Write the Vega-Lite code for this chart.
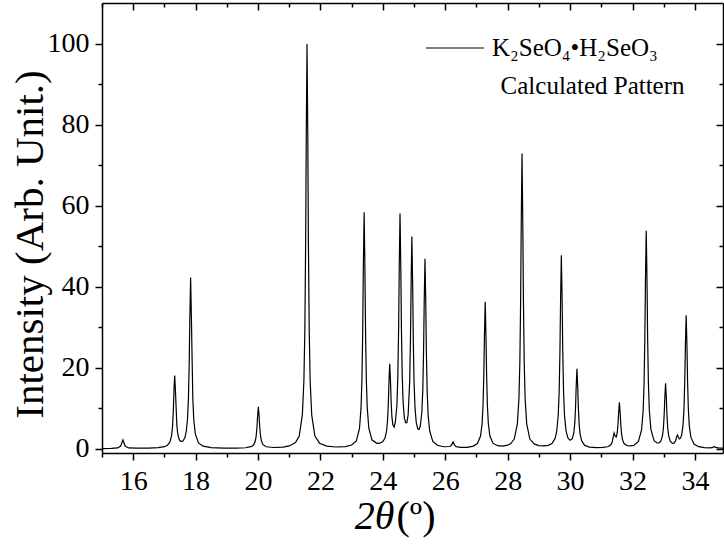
{
  "$schema": "https://vega.github.io/schema/vega-lite/v6.json",
  "autosize": {"type": "none"},
  "padding": {"left": 102, "top": 3, "right": 1, "bottom": 92},
  "width": 621,
  "height": 450,
  "background": "white",
  "config": {
    "view": {"stroke": null},
    "axis": {"grid": false, "domainColor": "black", "tickColor": "black", "labelColor": "black", "titleColor": "black", "labelFont": "Liberation Serif", "titleFont": "Liberation Serif", "titleFontWeight": "normal", "domainWidth": 1.5, "tickWidth": 1.5}
  },
  "data": {"values": [
    {"x":15.0,"y":0.10},{"x":15.3,"y":0.12},{"x":15.5,"y":0.24},{"x":15.6,"y":0.71},{"x":15.645,"y":1.7},{"x":15.67,"y":2.2},{"x":15.695,"y":1.7},{"x":15.74,"y":0.71},{"x":15.85,"y":0.24},{"x":16.1,"y":0.18},{"x":16.5,"y":0.2},{"x":16.8,"y":0.31},{"x":17.0,"y":0.55},{"x":17.1,"y":0.93},{"x":17.18,"y":1.77},{"x":17.23,"y":3.3},{"x":17.26,"y":5.5},{"x":17.285,"y":9.2},{"x":17.31,"y":15.2},{"x":17.33,"y":18.1},{"x":17.355,"y":14.0},{"x":17.4,"y":5.7},{"x":17.43,"y":3.57},{"x":17.48,"y":2.22},{"x":17.52,"y":1.86},{"x":17.56,"y":1.85},{"x":17.6,"y":2.02},{"x":17.66,"y":2.9},{"x":17.7,"y":4.3},{"x":17.74,"y":7.4},{"x":17.77,"y":12.6},{"x":17.795,"y":21.3},{"x":17.815,"y":32.4},{"x":17.84,"y":42.3},{"x":17.865,"y":32.3},{"x":17.89,"y":21.2},{"x":17.91,"y":12.5},{"x":17.94,"y":7.3},{"x":17.99,"y":3.7},{"x":18.09,"y":1.5},{"x":18.24,"y":0.68},{"x":18.5,"y":0.34},{"x":18.9,"y":0.22},{"x":19.3,"y":0.22},{"x":19.6,"y":0.3},{"x":19.8,"y":0.62},{"x":19.86,"y":1.02},{"x":19.91,"y":1.9},{"x":19.94,"y":3.17},{"x":19.965,"y":5.3},{"x":19.985,"y":8.0},{"x":20.01,"y":10.4},{"x":20.035,"y":8.0},{"x":20.055,"y":5.3},{"x":20.08,"y":3.2},{"x":20.11,"y":1.93},{"x":20.16,"y":1.05},{"x":20.26,"y":0.54},{"x":20.5,"y":0.36},{"x":20.8,"y":0.47},{"x":21.0,"y":0.74},{"x":21.2,"y":1.57},{"x":21.32,"y":3.2},{"x":21.42,"y":8.4},{"x":21.47,"y":16.9},{"x":21.5,"y":29.3},{"x":21.525,"y":50.1},{"x":21.545,"y":76.5},{"x":21.57,"y":99.9},{"x":21.595,"y":76.5},{"x":21.615,"y":50.1},{"x":21.64,"y":29.3},{"x":21.67,"y":16.9},{"x":21.72,"y":8.4},{"x":21.82,"y":3.25},{"x":21.97,"y":1.42},{"x":22.2,"y":0.69},{"x":22.5,"y":0.48},{"x":22.8,"y":0.58},{"x":23.0,"y":0.98},{"x":23.15,"y":2.0},{"x":23.25,"y":5.0},{"x":23.3,"y":10.0},{"x":23.33,"y":17.2},{"x":23.355,"y":29.4},{"x":23.375,"y":44.7},{"x":23.4,"y":58.4},{"x":23.425,"y":44.7},{"x":23.445,"y":29.3},{"x":23.47,"y":17.2},{"x":23.5,"y":10.1},{"x":23.55,"y":5.1},{"x":23.65,"y":2.25},{"x":23.8,"y":1.4},{"x":23.9,"y":1.42},{"x":24.0,"y":1.8},{"x":24.07,"y":2.7},{"x":24.12,"y":4.5},{"x":24.15,"y":7.0},{"x":24.175,"y":11.1},{"x":24.195,"y":16.4},{"x":24.22,"y":21.0},{"x":24.245,"y":16.6},{"x":24.265,"y":11.7},{"x":24.29,"y":7.9},{"x":24.32,"y":6.0},{"x":24.36,"y":5.4},{"x":24.4,"y":6.6},{"x":24.45,"y":10.7},{"x":24.48,"y":17.8},{"x":24.505,"y":29.6},{"x":24.525,"y":44.6},{"x":24.55,"y":58.1},{"x":24.575,"y":44.7},{"x":24.595,"y":29.8},{"x":24.62,"y":18.2},{"x":24.65,"y":11.4},{"x":24.69,"y":7.6},{"x":24.73,"y":6.5},{"x":24.77,"y":6.5},{"x":24.81,"y":8.4},{"x":24.86,"y":16.7},{"x":24.885,"y":27.2},{"x":24.905,"y":40.5},{"x":24.93,"y":52.4},{"x":24.955,"y":40.4},{"x":24.975,"y":27.0},{"x":25.0,"y":16.4},{"x":25.03,"y":10.2},{"x":25.07,"y":6.56},{"x":25.12,"y":4.9},{"x":25.16,"y":4.8},{"x":25.2,"y":5.65},{"x":25.25,"y":9.1},{"x":25.28,"y":14.7},{"x":25.305,"y":24.2},{"x":25.325,"y":36.2},{"x":25.35,"y":46.9},{"x":25.375,"y":35.9},{"x":25.395,"y":23.8},{"x":25.42,"y":14.2},{"x":25.45,"y":8.4},{"x":25.5,"y":4.5},{"x":25.6,"y":1.86},{"x":25.75,"y":0.9},{"x":25.95,"y":0.54},{"x":26.15,"y":0.6},{"x":26.2,"y":0.97},{"x":26.25,"y":1.73},{"x":26.3,"y":0.96},{"x":26.35,"y":0.57},{"x":26.5,"y":0.38},{"x":26.7,"y":0.4},{"x":26.9,"y":0.71},{"x":27.03,"y":1.32},{"x":27.13,"y":3.2},{"x":27.18,"y":6.25},{"x":27.21,"y":10.7},{"x":27.235,"y":18.2},{"x":27.255,"y":27.7},{"x":27.28,"y":36.3},{"x":27.305,"y":27.7},{"x":27.325,"y":18.2},{"x":27.35,"y":10.7},{"x":27.38,"y":6.25},{"x":27.43,"y":3.2},{"x":27.53,"y":1.42},{"x":27.68,"y":0.8},{"x":27.85,"y":0.71},{"x":28.0,"y":0.93},{"x":28.1,"y":1.32},{"x":28.21,"y":2.43},{"x":28.31,"y":6.2},{"x":28.36,"y":12.35},{"x":28.39,"y":21.35},{"x":28.415,"y":36.45},{"x":28.435,"y":55.6},{"x":28.46,"y":72.9},{"x":28.485,"y":55.6},{"x":28.505,"y":36.4},{"x":28.53,"y":21.35},{"x":28.56,"y":12.3},{"x":28.61,"y":6.2},{"x":28.71,"y":2.44},{"x":28.86,"y":1.19},{"x":29.0,"y":0.82},{"x":29.15,"y":0.74},{"x":29.3,"y":0.9},{"x":29.42,"y":1.35},{"x":29.52,"y":2.6},{"x":29.57,"y":4.24},{"x":29.62,"y":8.3},{"x":29.65,"y":14.2},{"x":29.675,"y":24.1},{"x":29.695,"y":36.6},{"x":29.72,"y":47.8},{"x":29.745,"y":36.7},{"x":29.765,"y":24.2},{"x":29.79,"y":14.35},{"x":29.82,"y":8.4},{"x":29.87,"y":4.46},{"x":29.93,"y":2.72},{"x":30.0,"y":2.13},{"x":30.07,"y":2.54},{"x":30.12,"y":4.0},{"x":30.15,"y":6.3},{"x":30.175,"y":10.3},{"x":30.195,"y":15.35},{"x":30.22,"y":19.8},{"x":30.245,"y":15.25},{"x":30.265,"y":10.15},{"x":30.29,"y":6.1},{"x":30.32,"y":3.7},{"x":30.37,"y":2.0},{"x":30.47,"y":0.87},{"x":30.62,"y":0.46},{"x":30.85,"y":0.32},{"x":31.05,"y":0.41},{"x":31.2,"y":0.54},{"x":31.3,"y":0.95},{"x":31.35,"y":1.72},{"x":31.38,"y":2.88},{"x":31.41,"y":3.97},{"x":31.45,"y":3.1},{"x":31.48,"y":2.95},{"x":31.51,"y":3.95},{"x":31.535,"y":6.1},{"x":31.555,"y":8.9},{"x":31.58,"y":11.5},{"x":31.605,"y":8.85},{"x":31.625,"y":5.95},{"x":31.65,"y":3.65},{"x":31.68,"y":2.3},{"x":31.73,"y":1.33},{"x":31.83,"y":0.79},{"x":31.95,"y":0.76},{"x":32.05,"y":0.9},{"x":32.19,"y":1.87},{"x":32.29,"y":4.67},{"x":32.34,"y":9.27},{"x":32.37,"y":16.0},{"x":32.395,"y":27.2},{"x":32.415,"y":41.4},{"x":32.44,"y":53.8},{"x":32.465,"y":41.4},{"x":32.485,"y":27.2},{"x":32.51,"y":16.0},{"x":32.54,"y":9.4},{"x":32.59,"y":4.8},{"x":32.69,"y":2.05},{"x":32.79,"y":1.47},{"x":32.85,"y":1.49},{"x":32.91,"y":2.0},{"x":32.96,"y":3.2},{"x":32.99,"y":5.1},{"x":33.015,"y":8.4},{"x":33.035,"y":12.5},{"x":33.06,"y":16.2},{"x":33.085,"y":12.46},{"x":33.105,"y":8.33},{"x":33.13,"y":5.07},{"x":33.16,"y":3.2},{"x":33.21,"y":1.93},{"x":33.28,"y":1.38},{"x":33.33,"y":1.43},{"x":33.38,"y":1.98},{"x":33.41,"y":2.87},{"x":33.44,"y":3.45},{"x":33.47,"y":2.94},{"x":33.5,"y":2.47},{"x":33.54,"y":2.66},{"x":33.58,"y":3.6},{"x":33.62,"y":6.0},{"x":33.65,"y":10.0},{"x":33.675,"y":16.9},{"x":33.695,"y":25.5},{"x":33.72,"y":33.0},{"x":33.745,"y":25.25},{"x":33.765,"y":16.6},{"x":33.79,"y":9.8},{"x":33.82,"y":5.7},{"x":33.87,"y":2.9},{"x":33.97,"y":1.2},{"x":34.12,"y":0.56},{"x":34.3,"y":0.32},{"x":34.5,"y":0.26},{"x":34.57,"y":0.38},{"x":34.62,"y":0.55},{"x":34.67,"y":0.38},{"x":34.75,"y":0.25},{"x":34.9,"y":0.2}
  ]},
  "resolve": {"axis": {"x": "independent", "y": "independent"}},
  "layer": [
    {
      "mark": {"type": "line", "strokeWidth": 1.2},
      "encoding": {
        "x": {"field": "x", "type": "quantitative", "scale": {"domain": [15, 34.9], "nice": false, "zero": false},
          "axis": {"orient": "bottom", "values": [16,18,20,22,24,26,28,30,32,34], "tickSize": 7, "labelFont": "Liberation Serif", "labelFontSize": 28, "labelPadding": 7, "title": "2θ", "titleFont": "Liberation Serif", "titleFontSize": 40, "titleFontStyle": "italic", "titleAlign": "right", "titleAnchor": null, "titleX": 292, "titleY": 75, "titleBaseline": "alphabetic"}},
        "y": {"field": "y", "type": "quantitative", "scale": {"domain": [-1, 110], "nice": false, "zero": false},
          "axis": {"orient": "left", "values": [0,20,40,60,80,100], "tickSize": 7, "labelFont": "Liberation Serif", "labelFontSize": 28, "labelPadding": 6, "title": "Intensity (Arb. Unit.)", "titleFont": "Liberation Serif", "titleFontSize": 41, "titleX": -60, "titleY": 241, "titleAlign": "center", "titleBaseline": "alphabetic", "titleAngle": 270}},
        "color": {"datum": "K₂SeO₄•H₂SeO₃", "type": "nominal", "scale": {"range": ["#000000"]},
          "legend": {"orient": "none", "legendX": 323, "legendY": 15, "symbolType": "stroke", "symbolSize": 3364, "symbolStrokeWidth": 1.2, "labelFont": "Liberation Serif", "labelFontSize": 25, "labelColor": "black", "labelOffset": 7, "labelLimit": 400, "title": null, "padding": 0}}
      }
    },
    {
      "mark": {"type": "line", "strokeOpacity": 0},
      "encoding": {
        "x": {"field": "x", "type": "quantitative", "axis": {"orient": "bottom", "values": [15,17,19,21,23,25,27,29,31,33], "tickSize": 4, "labels": false, "domain": false, "title": "(º)", "titleFont": "Liberation Serif", "titleFontSize": 40, "titleAlign": "left", "titleAnchor": null, "titleX": 294, "titleY": 75, "titleBaseline": "alphabetic"}},
        "y": {"field": "y", "type": "quantitative", "axis": {"orient": "left", "values": [10,30,50,70,90], "tickSize": 4, "labels": false, "domain": false, "title": null}}
      }
    },
    {
      "mark": {"type": "line", "strokeOpacity": 0},
      "encoding": {
        "x": {"field": "x", "type": "quantitative", "axis": {"orient": "top", "values": [16,18,20,22,24,26,28,30,32,34], "tickSize": -7, "labels": false, "title": null}},
        "y": {"field": "y", "type": "quantitative", "axis": {"orient": "right", "values": [0,20,40,60,80,100], "tickSize": -7, "labels": false, "title": null}}
      }
    },
    {
      "mark": {"type": "line", "strokeOpacity": 0},
      "encoding": {
        "x": {"field": "x", "type": "quantitative", "axis": {"orient": "top", "values": [15,17,19,21,23,25,27,29,31,33], "tickSize": -4, "labels": false, "domain": false, "title": null}},
        "y": {"field": "y", "type": "quantitative", "axis": {"orient": "right", "values": [10,30,50,70,90], "tickSize": -4, "labels": false, "domain": false, "title": null}}
      }
    },
    {
      "data": {"values": [{"label": "Calculated Pattern"}]},
      "mark": {"type": "text", "font": "Liberation Serif", "fontSize": 25, "align": "center", "baseline": "alphabetic", "color": "black"},
      "encoding": {
        "x": {"datum": 30.72, "type": "quantitative", "axis": null},
        "y": {"datum": 87.55, "type": "quantitative", "axis": null},
        "text": {"field": "label"}
      }
    }
  ]
}
